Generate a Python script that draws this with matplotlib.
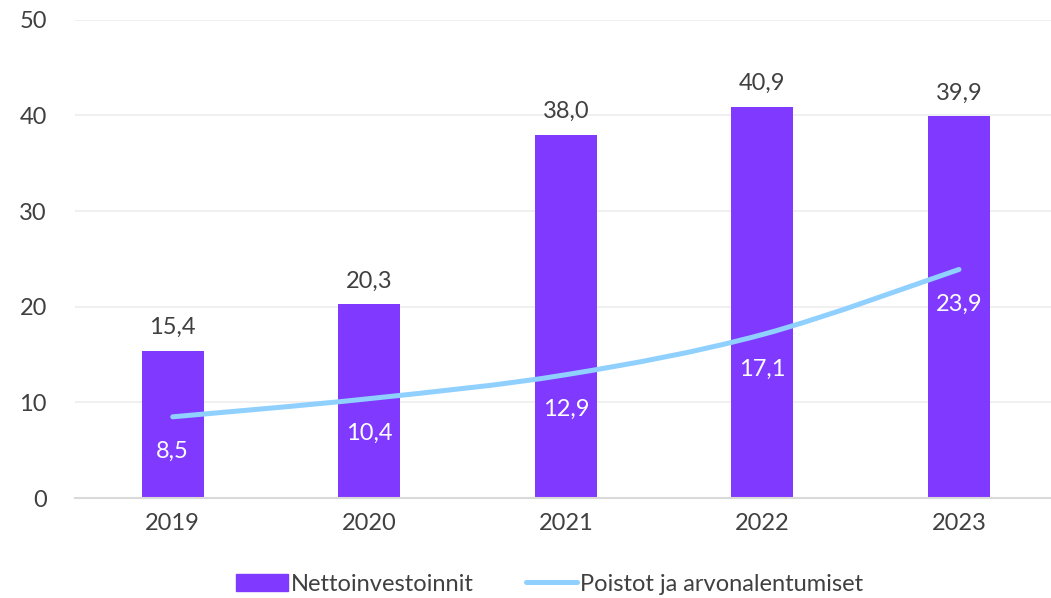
import matplotlib.pyplot as plt
from matplotlib.path import Path
from matplotlib.patches import PathPatch, Patch
from matplotlib.lines import Line2D
import numpy as np

plt.rcParams['font.family'] = ['Lato', 'DejaVu Sans']

years = ['2019', '2020', '2021', '2022', '2023']
netto = [15.4, 20.3, 38.0, 40.9, 39.9]
poistot = [8.5, 10.4, 12.9, 17.1, 23.9]

bar_color = '#8039FF'
line_color = '#8FD0FF'
text_color = '#404040'

def fmt(v):
    return f"{v:.1f}".replace('.', ',')

def smooth_path(xs, ys):
    # bezier curve through the points (like Excel's smoothed line)
    pts = list(zip(xs, ys))
    verts = [pts[0]]
    codes = [Path.MOVETO]
    n = len(pts)
    for i in range(n - 1):
        p0 = np.array(pts[i - 1] if i > 0 else pts[i])
        p1 = np.array(pts[i])
        p2 = np.array(pts[i + 1])
        p3 = np.array(pts[i + 2] if i + 2 < n else pts[i + 1])
        c1 = p1 + (p2 - p0) / 6
        c2 = p2 - (p3 - p1) / 6
        verts += [tuple(c1), tuple(c2), tuple(p2)]
        codes += [Path.CURVE4] * 3
    return Path(verts, codes)

fig = plt.figure(figsize=(10.51, 5.98), dpi=100)
ax = fig.add_axes([0.071, 0.167, 0.929, 0.8])

x = np.arange(len(years))
bars = ax.bar(x, netto, width=0.315, color=bar_color, zorder=2)
for xi, v in zip(x, netto):
    ax.annotate(fmt(v), (xi, v), xytext=(0, 9), textcoords='offset points',
                ha='center', va='bottom', fontsize=17, color=text_color)

ax.add_patch(PathPatch(smooth_path(x, poistot), fill=False, edgecolor=line_color,
                       lw=3.6, capstyle='round', zorder=3))
for xi, v in zip(x, poistot):
    ax.annotate(fmt(v), (xi, v), xytext=(0, -25), textcoords='offset points',
                ha='center', va='center', fontsize=17, color='white', zorder=4)

ax.set_xlim(-0.499, 4.468)
ax.set_ylim(0, 50)
ax.set_yticks(range(0, 51, 10))
ax.set_xticks(x)
ax.set_xticklabels(years)
ax.tick_params(axis='both', length=0, labelsize=17, labelcolor=text_color)
ax.tick_params(axis='x', pad=11)
ax.tick_params(axis='y', pad=20)
ax.grid(axis='y', color='#EEEEEE', lw=1.2, zorder=0)
for s in ['top', 'right', 'left']:
    ax.spines[s].set_visible(False)
ax.spines['bottom'].set_color('#D9D9D9')
ax.spines['bottom'].set_linewidth(1.5)

handles = [Patch(color=bar_color), Line2D([], [], color=line_color, lw=3.6, solid_capstyle='round')]
fig.legend(handles, ['Nettoinvestoinnit', 'Poistot ja arvonalentumiset'],
           loc='lower center', bbox_to_anchor=(0.523, -0.03), ncol=2, frameon=False,
           fontsize=17, labelcolor=text_color, handlelength=2.2, handletextpad=0.1,
           columnspacing=2.2)

fig.savefig('out.png', dpi=100)
